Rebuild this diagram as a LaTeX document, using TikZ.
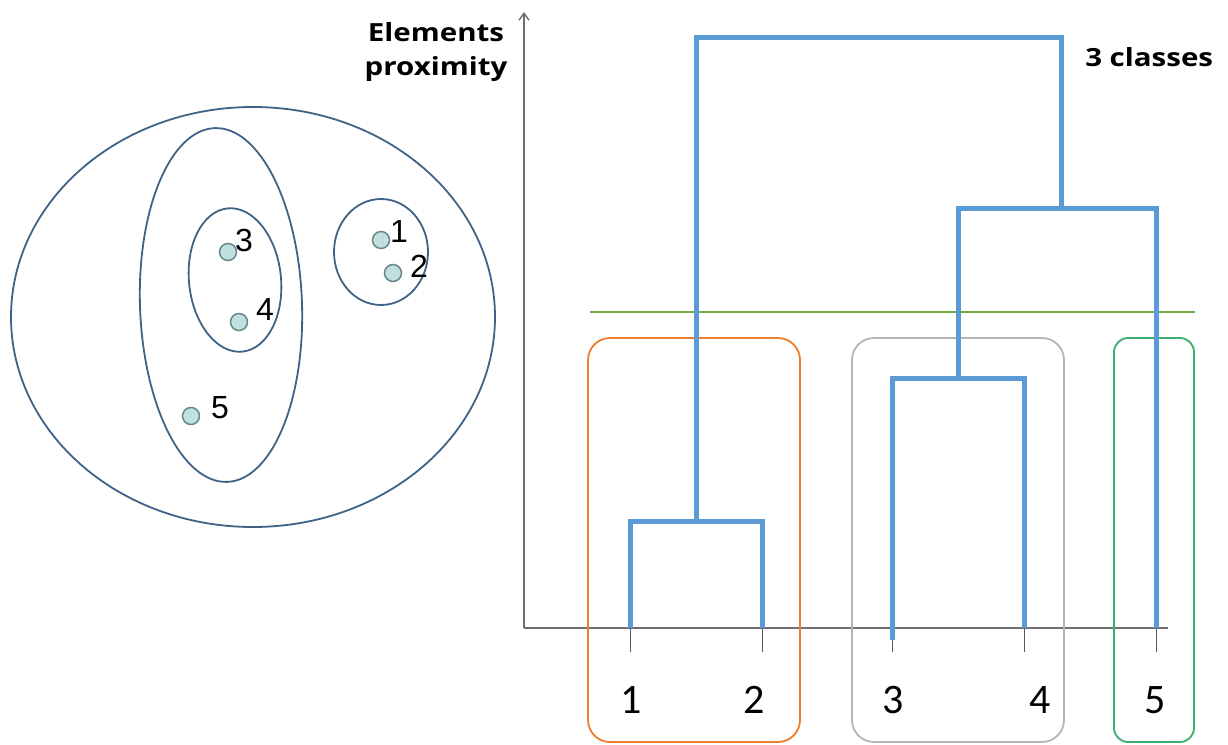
\documentclass[tikz,border=0pt]{standalone}
\usepackage{fontspec}
\setmainfont{Liberation Sans}
\newfontfamily\titlefont{Open Sans}
\newfontfamily\numfont{Carlito}
\usetikzlibrary{arrows.meta}
\definecolor{dblue}{HTML}{5B9BD5}
\definecolor{ringc}{HTML}{3F6387}
\definecolor{dotfill}{HTML}{BFE0DD}
\definecolor{dotdraw}{HTML}{6A8790}
\definecolor{axisc}{HTML}{707070}
\definecolor{orangec}{HTML}{ED7D31}
\definecolor{grayc}{HTML}{B4B4B4}
\definecolor{greenbox}{HTML}{3AAE6E}
\definecolor{greenline}{HTML}{70AD47}
\tikzset{
  ring/.style={draw=ringc, line width=1.8pt},
  pt/.style={circle, draw=dotdraw, fill=dotfill, line width=1.5pt, minimum size=17pt, inner sep=0pt},
  ptlabel/.style={font=\fontsize{32}{32}\selectfont, inner sep=0pt, anchor=base west},
  dend/.style={draw=dblue, line width=5pt},
  axisline/.style={draw=axisc, line width=1.4pt},
  tick/.style={draw=axisc!80!black, line width=1pt},
  leaf/.style={font=\numfont\fontsize{42}{42}\selectfont, inner sep=0pt, anchor=base},
  classbox/.style={rounded corners=22pt, line width=1.8pt},
  title/.style={font=\titlefont\bfseries\fontsize{25}{34}\selectfont, inner sep=0pt, xscale=1.18},
}
\begin{document}
\begin{tikzpicture}[x=1pt, y=-1pt]
\useasboundingbox (0,0) rectangle (1228,744);
% left cluster picture
\draw[ring] (253,317) ellipse [x radius=242, y radius=210];
\draw[ring, rotate around={2:(221,305)}] (221,305) ellipse [x radius=81, y radius=177];
\draw[ring, rotate around={6:(235,280)}] (235,280) ellipse [x radius=46, y radius=72];
\draw[ring] (381,252) ellipse [x radius=47, y radius=53];
\node[pt] (p3) at (228,252) {};
\node[pt] (p4) at (239,322) {};
\node[pt] (p5) at (191,416) {};
\node[pt] (p1) at (381,240) {};
\node[pt] (p2) at (393,273) {};
\node[ptlabel] (l3) at (235,251) {3};
\node[ptlabel] (l4) at (256,320) {4};
\node[ptlabel] (l5) at (211,418) {5};
\node[ptlabel] (l1) at (390,242) {1};
\node[ptlabel] (l2) at (410,277) {2};
% title texts
\node[title, align=center] (ytitle) at (436,52) {Elements\\proximity};
\node[title, anchor=west] (classes) at (1085,57) {3 classes};
% axes
\coordinate (origin) at (524,628);
\coordinate (ytop) at (524,12);
\coordinate (xend) at (1168,628);
\draw[axisline, -{Straight Barb[length=7pt,width=10pt]}] (origin) -- (ytop);
\draw[axisline] (origin) -- (xend);
% leaf positions
\coordinate (a1) at (630,628);
\coordinate (a2) at (762,628);
\coordinate (a3) at (892,628);
\coordinate (a4) at (1024,628);
\coordinate (a5) at (1156,628);
\foreach \i in {1,...,5} {\draw[tick] (a\i) -- ++(0,24);}
% leaf labels
\node[leaf] (n1) at (631,713) {1};
\node[leaf] (n2) at (754,713) {2};
\node[leaf] (n3) at (893,713) {3};
\node[leaf] (n4) at (1040,713) {4};
\node[leaf] (n5) at (1155,713) {5};
% class boxes
\draw[classbox, draw=orangec] (588,338) rectangle (800,742);
\draw[classbox, draw=grayc] (852,338) rectangle (1064,742);
\draw[classbox, draw=greenbox, rounded corners=14pt] (1114,338) rectangle (1194,742);
% cut line
\coordinate (cutL) at (590,312);
\coordinate (cutR) at (1195,312);
\draw[draw=greenline, line width=1.6pt] (cutL) -- (cutR);
% dendrogram
\draw[dend] (a1) -- (630,521) -- (762,521) -- (a2);
\draw[dend] (696,521) -- (696,37) -- (1061,37) -- (1061,208);
\draw[dend] (892,640) -- (892,378) -- (1024,378) -- (a4);
\draw[dend] (958,378) -- (958,208) -- (1156,208) -- (a5);
\end{tikzpicture}
\end{document}
